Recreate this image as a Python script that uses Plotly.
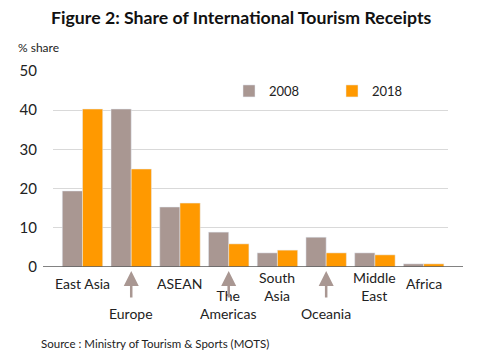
import plotly.graph_objects as go

categories = ["East Asia", "Europe", "ASEAN", "The Americas", "South Asia", "Oceania", "Middle East", "Africa"]
labels = ["East Asia", "Europe", "ASEAN", "The<br>Americas", "South<br>Asia", "Oceania", "Middle<br>East", "Africa"]
share_2008 = [19.4, 40.3, 15.3, 8.9, 3.6, 7.6, 3.6, 0.8]
share_2018 = [40.3, 25.0, 16.3, 5.9, 4.3, 3.6, 3.1, 0.8]
label_pixel_y = [283, 313, 283, 304, 286, 313, 286, 283]
arrow_cats = ["Europe", "The Americas", "Oceania"]

GRAY = "#A99792"
ORANGE = "#FF9900"
FONT = "Lato"

# page body has an 8px margin; the figure is sized to fill the rest of the window
OFF = 8
W, H = 481 - OFF, 360 - OFF
L, R, T, B = 53 - OFF, 33, 71 - OFF, 93
H_plot = H - T - B
W_plot = W - L - R


def py(ref_y):
    return (H - B - (ref_y - OFF)) / H_plot


def px(ref_x):
    return (ref_x - OFF - L) / W_plot


fig = go.Figure()
fig.add_bar(x=categories, y=share_2008, name="2008", marker_color=GRAY)
fig.add_bar(x=categories, y=share_2018, name="2018", marker_color=ORANGE)

for c, lab, ly in zip(categories, labels, label_pixel_y):
    fig.add_annotation(x=c, y=py(ly), xref="x", yref="paper", text=lab, showarrow=False,
                       yanchor="middle", font=dict(size=14, color="#222222", family=FONT))
for c in arrow_cats:
    fig.add_annotation(x=c, y=py(271), xref="x", yref="paper", text="", showarrow=True,
                       ax=0, ay=28, arrowhead=2, arrowsize=1.2, arrowwidth=2.5,
                       arrowcolor=GRAY)

fig.add_shape(type="line", xref="paper", yref="y", x0=px(43), x1=px(463), y0=0, y1=0,
              line=dict(color="#595959", width=1.3))

fig.add_annotation(text="<b>Figure 2: Share of International Tourism Receipts</b>",
                   xref="paper", yref="paper", x=px(241), y=py(18), xanchor="center", yanchor="middle",
                   font=dict(size=17.7, color="#111111", family=FONT), showarrow=False)
fig.add_annotation(text="% share", xref="paper", yref="paper", x=px(16), y=py(47),
                   xanchor="left", yanchor="middle",
                   showarrow=False, font=dict(size=12, color="#222222", family=FONT))
fig.add_annotation(text="Source : Ministry of Tourism & Sports (MOTS)", xref="paper", yref="paper",
                   x=px(39), y=py(343), xanchor="left", yanchor="middle",
                   showarrow=False, font=dict(size=11.5, color="#222222", family=FONT))

fig.update_layout(
    width=W, height=H,
    margin=dict(l=L, r=R, t=T, b=B, autoexpand=False),
    paper_bgcolor="white", plot_bgcolor="white",
    barmode="group", bargap=0.17, bargroupgap=0,
    font=dict(family=FONT, size=14, color="#222222"),
    showlegend=True,
    legend=dict(orientation="h", x=px(229), y=py(91), xanchor="left", yanchor="middle",
                font=dict(size=13, family=FONT), entrywidth=58, entrywidthmode="pixels",
                bgcolor="rgba(0,0,0,0)", itemwidth=30, tracegroupgap=0),
    xaxis=dict(showticklabels=False, showgrid=False, zeroline=False, showline=False, ticks=""),
    yaxis=dict(range=[0, 50], dtick=10, showgrid=True, gridcolor="#D9D9D9", gridwidth=1,
               zeroline=False, showline=False, ticks="", tickfont=dict(size=15, family=FONT),
               ticklabelstandoff=15),
)

fig.write_html("out.html")
